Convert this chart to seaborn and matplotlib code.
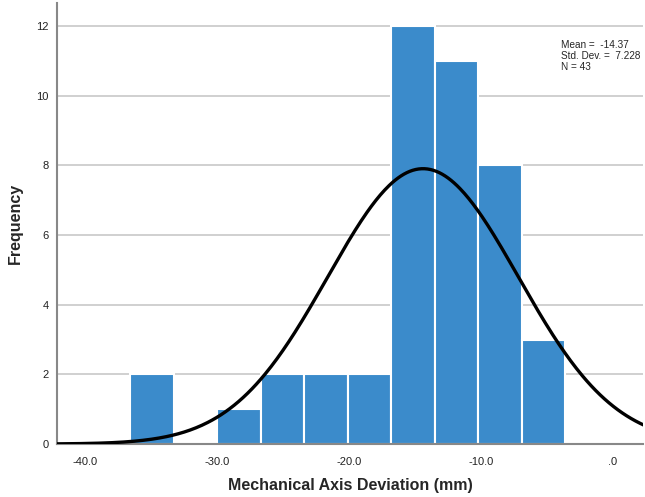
import numpy as np
import pandas as pd
import matplotlib
matplotlib.use("Agg")
import matplotlib.pyplot as plt
import seaborn as sns

# Data
bin_edges = [-36.54, -33.24, -29.95, -26.65, -23.36, -20.06, -16.76, -13.47, -10.17, -6.88, -3.58]
counts = [2, 0, 1, 2, 2, 2, 12, 11, 8, 3]
mean_val = -14.37
std_val = 7.228
n_val = 43
x_ticks = [-40, -30, -20, -10, 0]
x_tick_labels = ["-40.0", "-30.0", "-20.0", "-10.0", ".0"]
y_ticks = [0, 2, 4, 6, 8, 10, 12]

sns.set_theme(style="white")
plt.rcParams["font.family"] = ["Liberation Sans", "DejaVu Sans"]

edges = np.array(bin_edges)
centers = (edges[:-1] + edges[1:]) / 2
df = pd.DataFrame({"x": centers, "w": counts})

fig = plt.figure(figsize=(6.45, 4.97), dpi=100)
ax = fig.add_axes([0.0884, 0.1066, 0.9086, 0.8874])

for y in y_ticks[1:]:
    ax.axhline(y, color="#c8c8c8", lw=1.2, zorder=0)

sns.histplot(data=df, x="x", weights="w", bins=list(bin_edges), ax=ax,
             color="#3b8bcb", alpha=1.0, edgecolor="white", linewidth=1.5, zorder=2)

bw = 3.33
xs = np.linspace(-42.2, 2.4, 400)
ys = n_val * bw / (std_val * np.sqrt(2 * np.pi)) * np.exp(-0.5 * ((xs - mean_val) / std_val) ** 2)
sns.lineplot(x=xs, y=ys, ax=ax, color="black", lw=2.4, zorder=3)

ax.set_xlim(-42.1, 2.3)
ax.set_ylim(0, 12.66)
ax.set_xticks(x_ticks)
ax.set_xticklabels(x_tick_labels)
ax.set_yticks(y_ticks)
ax.tick_params(axis="both", length=0, labelsize=8, colors="#222222")
ax.tick_params(axis="x", pad=9)
ax.tick_params(axis="y", pad=6)

for s in ["top", "right"]:
    ax.spines[s].set_visible(False)
for s in ["left", "bottom"]:
    ax.spines[s].set_color("#888888")
    ax.spines[s].set_linewidth(1.5)

ax.set_xlabel("Mechanical Axis Deviation (mm)", fontsize=11.5, fontweight="bold")
ax.set_ylabel("Frequency", fontsize=11.5, fontweight="bold")
ax.xaxis.set_label_coords(0.5, -0.093)
ax.xaxis.label.set_va("center")
ax.yaxis.set_label_coords(-0.0717, 0.5)
ax.yaxis.label.set_va("center")

ax.text(0.860, 0.915, f"Mean =  {mean_val:.2f}\nStd. Dev. =  {std_val:.3f}\nN = {n_val}",
        transform=ax.transAxes, fontsize=7.2, va="top", ha="left", linespacing=1.08)

fig.savefig("out.png", dpi=100)
